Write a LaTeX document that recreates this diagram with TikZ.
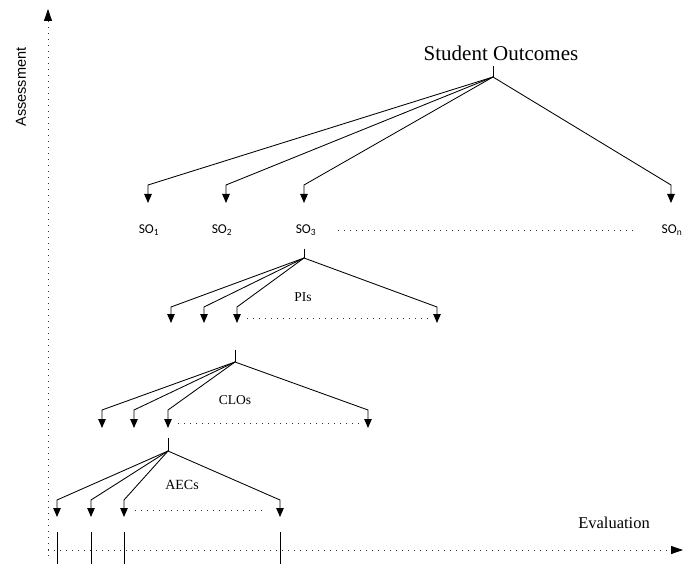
\documentclass[tikz,border=0pt]{standalone}
\usepackage{fontspec}
\setmainfont{Liberation Serif}
\newfontfamily\calibf{Carlito}
\newfontfamily\arialf{Liberation Sans}
\usetikzlibrary{arrows.meta}
\begin{document}
\begin{tikzpicture}[x=1pt,y=-1pt,
  edge/.style={draw=black, line width=0.85pt},
  arr/.style={edge, -{Triangle[width=7.5pt,length=9pt]}},
  dotline/.style={draw=black!80, line width=0.8pt, dash pattern=on 0.8pt off 5.2pt},
  axisline/.style={dotline, -{Triangle[width=8pt,length=12pt,black]}},
  solab/.style={font=\calibf\fontsize{13.5}{15}\selectfont, inner sep=0pt},
  lvlab/.style={font=\fontsize{13.5}{16}\selectfont, inner sep=0pt},
  tick/.style={draw=black, line width=1pt}]
\useasboundingbox (0,0) rectangle (683,564);
% axes
\coordinate (vaxb) at (48,556);
\coordinate (vaxt) at (48,9);
\coordinate (haxl) at (48,550);
\coordinate (haxr) at (683,550);
\draw[axisline] (vaxb) -- (vaxt);
\draw[axisline] (haxl) -- (haxr);
\node[font=\arialf\fontsize{14.5}{16}\selectfont, rotate=90, inner sep=0pt] (assess) at (21,87) {Assessment};
\node[font=\fontsize{16.5}{18}\selectfont, inner sep=0pt] (evalu) at (614,523) {Evaluation};
% level 1
\node[font=\fontsize{21}{24}\selectfont, inner sep=0pt] (stud) at (501,53) {Student Outcomes};
\coordinate (r0) at (493,66);
\coordinate (r1) at (493,77);
\draw[tick] (r0) -- (r1);
\coordinate (c1) at (148,185); \coordinate (t1) at (148,203);
\coordinate (c2) at (226,185); \coordinate (t2) at (226,203);
\coordinate (c3) at (304,185); \coordinate (t3) at (304,203);
\coordinate (cn) at (671,185); \coordinate (tn) at (671,203);
\foreach \i in {1,2,3,n} \draw[arr] (r1) -- (c\i) -- (t\i);
\node[solab] (so1) at (149,230) {SO\textsubscript{1}};
\node[solab] (so2) at (222,230) {SO\textsubscript{2}};
\node[solab] (so3) at (306,230) {SO\textsubscript{3}};
\node[solab] (son) at (672,230) {SO\textsubscript{n}};
\draw[dotline] (338,230) -- (635,230);
% level 2 (PIs)
\coordinate (p0) at (304,249);
\coordinate (p1) at (304,258);
\draw[tick] (p0) -- (p1);
\coordinate (pc1) at (171,307); \coordinate (pt1) at (171,323);
\coordinate (pc2) at (204,307); \coordinate (pt2) at (204,323);
\coordinate (pc3) at (237,307); \coordinate (pt3) at (237,323);
\coordinate (pc4) at (437,307); \coordinate (pt4) at (437,323);
\foreach \i in {1,...,4} \draw[arr] (p1) -- (pc\i) -- (pt\i);
\node[lvlab] (pis) at (303,297) {PIs};
\draw[dotline] (247,318) -- (432,318);
% level 3 (CLOs)
\coordinate (q0) at (235,350);
\coordinate (q1) at (235,362);
\draw[tick] (q0) -- (q1);
\coordinate (qc1) at (102,410); \coordinate (qt1) at (102,428);
\coordinate (qc2) at (134,410); \coordinate (qt2) at (134,428);
\coordinate (qc3) at (168,410); \coordinate (qt3) at (168,428);
\coordinate (qc4) at (368,410); \coordinate (qt4) at (368,428);
\foreach \i in {1,...,4} \draw[arr] (q1) -- (qc\i) -- (qt\i);
\node[lvlab] (clos) at (235,400) {CLOs};
\draw[dotline] (178,423) -- (362,423);
% level 4 (AECs)
\coordinate (a0) at (168,438);
\coordinate (a1) at (168,451);
\draw[tick] (a0) -- (a1);
\coordinate (ac1) at (57,500); \coordinate (at1) at (57,517);
\coordinate (ac2) at (91,500); \coordinate (at2) at (91,517);
\coordinate (ac3) at (124,500); \coordinate (at3) at (124,517);
\coordinate (ac4) at (280,500); \coordinate (at4) at (280,517);
\foreach \i in {1,...,4} \draw[arr] (a1) -- (ac\i) -- (at\i);
\node[lvlab, font=\fontsize{14}{16}\selectfont] (aecs) at (182,485) {AECs};
\draw[dotline] (135,510) -- (265,510);
% bottom markers
\foreach \x [count=\k] in {57,91,124,280} {
  \coordinate (mt\k) at (\x,532);
  \coordinate (mb\k) at (\x,564);
  \draw[edge] (mt\k) -- (mb\k);
}
\end{tikzpicture}
\end{document}
